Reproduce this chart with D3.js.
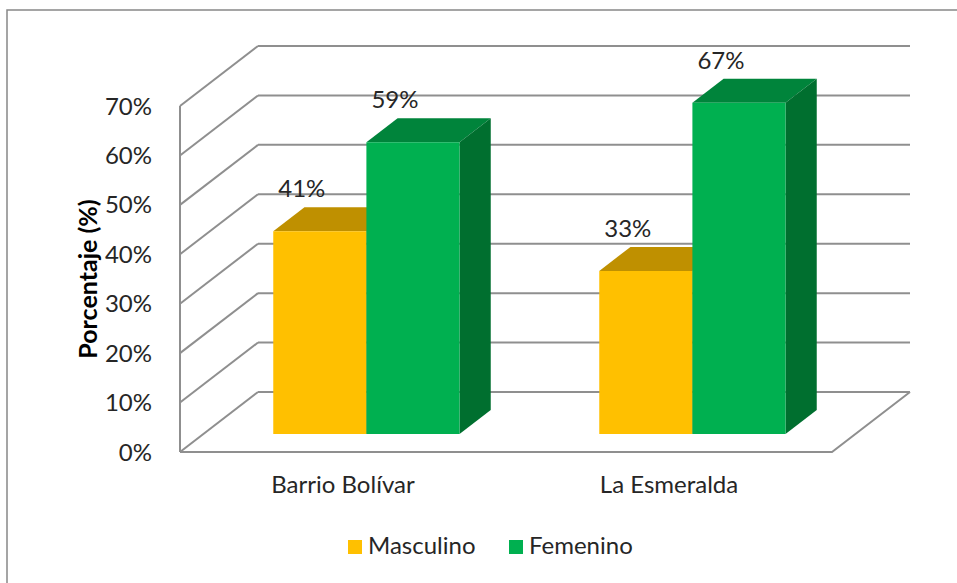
<!DOCTYPE html>
<html>
<head>
<meta charset="utf-8">
<script src="https://cdn.jsdelivr.net/npm/d3@7"></script>
<style>
  body{margin:0;background:#fff;}
  svg{display:block;font-family:Lato,"Liberation Sans",sans-serif;}
</style>
</head>
<body>
<svg id="chart" width="957" height="583"></svg>
<script>
//data
var categories = ['Barrio Bolívar','La Esmeralda'];
var series = ['Masculino','Femenino'];
var masculino = [41,33];
var femenino = [59,67];
var yTicks = [0,10,20,30,40,50,60,70];

var frontColor = {Masculino:'#FFC000',Femenino:'#00B050'},
    topColor = {Masculino:'#BF9000',Femenino:'#00843B'},
    sideColor = {Masculino:'#A67C00',Femenino:'#006F2F'};

var svg = d3.select('#chart');

//plot box (front plane) + depth offset
//(note: "top" is taken by window.top, so plotTop etc.)
var plotLeft = 180, plotRight = 832, plotTop = 106, plotBottom = 452,
    depthX = 78, depthY = -60,
    zFront = 0.3, zBack = 0.7;

var x0 = d3.scaleBand().domain(categories).range([plotLeft,plotRight]);
var x1 = d3.scaleBand().domain(series).range([0,x0.bandwidth()]).paddingInner(0).paddingOuter(0.75);
var y = d3.scaleLinear().domain([0,70]).range([plotBottom,plotTop]);

//project (front x, front y, depth 0..1)
var P = (px,py,z)=>[px+z*depthX, py+z*depthY];
var poly = pts=>'M'+pts.map(p=>p.join(',')).join('L')+'Z';

//outer border
svg.append('rect').attr('x',7).attr('y',10).attr('width',990).attr('height',600)
   .style('fill','none').style('stroke','#888').style('stroke-width',1.5);

var grid = svg.append('g').style('stroke','#8f8f8f').style('stroke-width',2).style('fill','none');

//back wall lines
grid.selectAll('.back').data(yTicks).enter().append('line')
    .attr('x1',plotLeft+depthX).attr('x2',plotRight+depthX)
    .attr('y1',d=>y(d)+depthY).attr('y2',d=>y(d)+depthY);
//side wall diagonals
grid.selectAll('.side').data(yTicks).enter().append('line')
    .attr('x1',plotLeft).attr('y1',d=>y(d))
    .attr('x2',plotLeft+depthX).attr('y2',d=>y(d)+depthY);
//side wall front edge
grid.append('line').attr('x1',plotLeft).attr('x2',plotLeft).attr('y1',y(70)).attr('y2',y(0));
//floor
grid.append('path').attr('d','M'+plotLeft+','+y(0)+'L'+plotRight+','+y(0)+'L'+(plotRight+depthX)+','+(y(0)+depthY));

//bars
var rows = [];
categories.forEach((c,i)=>{
    rows.push({cat:c,ser:'Masculino',v:masculino[i]});
    rows.push({cat:c,ser:'Femenino',v:femenino[i]});
});

var bars = svg.append('g').selectAll('g').data(rows).enter().append('g');
bars.each(function(d){
    var g = d3.select(this);
    var xa = x0(d.cat)+x1(d.ser), xb = xa+x1.bandwidth();
    var yt = y(d.v), yb = y(0);
    //top
    g.append('path').attr('d',poly([P(xa,yt,zFront),P(xb,yt,zFront),P(xb,yt,zBack),P(xa,yt,zBack)]))
     .style('fill',topColor[d.ser]);
    //side
    g.append('path').attr('d',poly([P(xb,yt,zFront),P(xb,yt,zBack),P(xb,yb,zBack),P(xb,yb,zFront)]))
     .style('fill',sideColor[d.ser]);
    //front
    g.append('path').attr('d',poly([P(xa,yt,zFront),P(xb,yt,zFront),P(xb,yb,zFront),P(xa,yb,zFront)]))
     .style('fill',frontColor[d.ser]);
    //label
    var c = P((xa+xb)/2,yt,zBack);
    g.append('text').text(d.v+'%')
     .attr('x',(xa+xb)/2+zFront*depthX-18).attr('y',c[1]-10)
     .style('text-anchor','middle').style('font-size','24px').style('fill','#262626');
});

//y tick labels
svg.append('g').selectAll('text').data(yTicks).enter().append('text')
   .text(d=>d+'%').attr('x',152).attr('y',d=>y(d)).attr('dy','0.36em')
   .style('text-anchor','end').style('font-size','24px').style('fill','#262626');

//category labels
svg.append('g').selectAll('text').data(categories).enter().append('text')
   .text(d=>d).attr('x',d=>x0(d)+x0.bandwidth()/2).attr('y',493)
   .style('text-anchor','middle').style('font-size','24px').style('fill','#262626');

//axis title
svg.append('text').text('Porcentaje (%)')
   .attr('transform','translate(97,'+y(35)+') rotate(-90)')
   .style('text-anchor','middle').style('font-size','25px').style('font-weight','bold').style('fill','#000');

//legend
var legend = svg.append('g').selectAll('g').data(series).enter().append('g')
   .attr('transform',(d,i)=>'translate('+[348,509][i]+',0)');
legend.append('rect').attr('x',0).attr('y',540).attr('width',14).attr('height',14)
   .style('fill',d=>frontColor[d]);
legend.append('text').text(d=>d).attr('x',20).attr('y',554)
   .style('font-size','24px').style('fill','#262626');
</script>
</body>
</html>
